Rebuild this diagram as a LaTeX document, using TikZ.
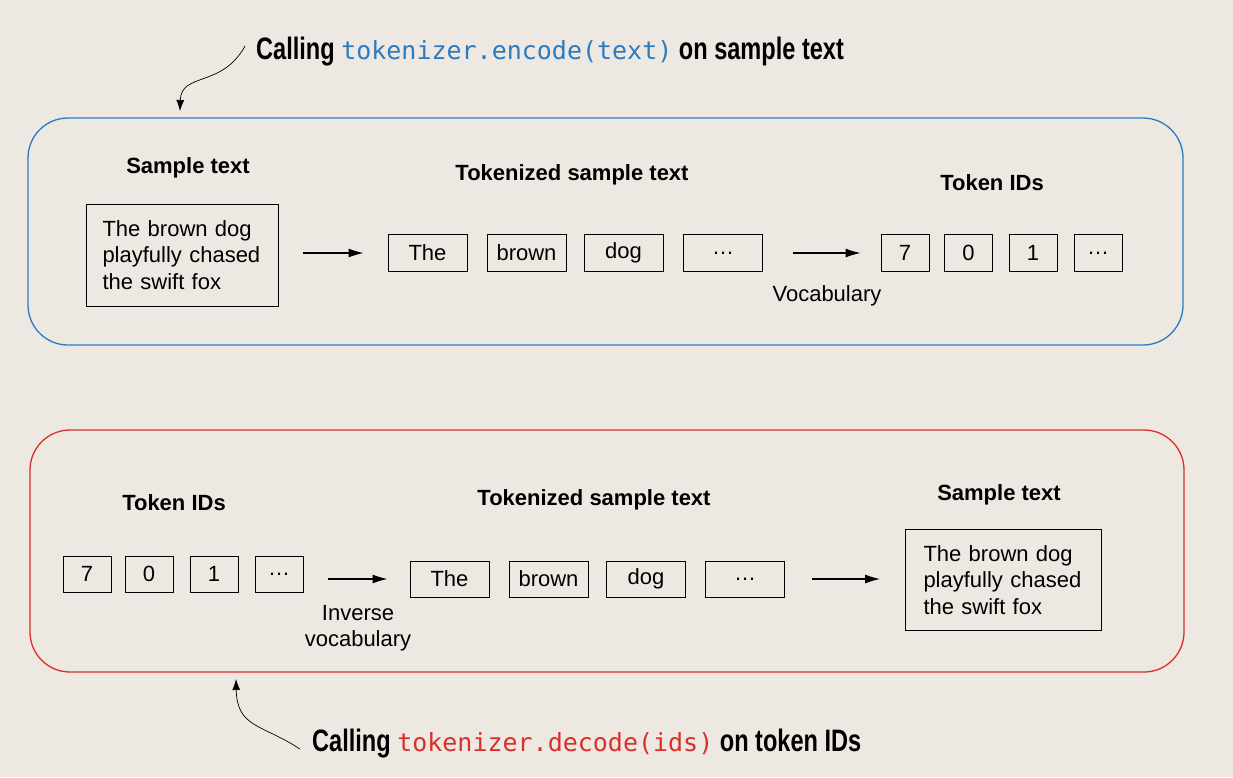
\documentclass[tikz,border=0pt]{standalone}
\usepackage{fontspec}
\setmainfont{Liberation Sans}
\newfontfamily\calloutfont{Liberation Sans Bold}[FakeStretch=0.76]
\newfontfamily\codefont{DejaVu Sans Mono}
\usetikzlibrary{arrows.meta}
\definecolor{paper}{RGB}{237,232,225}
\definecolor{encblue}{RGB}{43,123,192}
\definecolor{decred}{RGB}{217,48,42}
\tikzset{
  tokbox/.style={draw, line width=1pt, minimum width=79pt, minimum height=37pt, inner sep=0pt,
    font=\fontsize{22}{26}\selectfont},
  idbox/.style={tokbox, minimum width=48pt},
  textbox/.style={draw, line width=1pt, align=left, text width=160pt, inner xsep=16pt,
    minimum height=102pt, font=\fontsize{22}{26.5}\selectfont},
  heading/.style={font=\fontsize{22}{26}\selectfont\bfseries},
  note/.style={font=\fontsize{22}{26.5}\selectfont, align=center},
  flow/.style={-{Latex[length=15pt,width=9pt]}, line width=1.1pt},
  callout/.style={-{Latex[length=11pt,width=8pt]}, line width=0.7pt},
  calltext/.style={anchor=base west, inner sep=0pt, font=\fontsize{31}{36}\calloutfont}
}
\begin{document}
\begin{tikzpicture}[x=1pt,y=-1pt]
  % page and background
  \fill[paper] (0,0) rectangle (1233,777);
  \useasboundingbox (0,0) rectangle (1233,777);

  % encoding frame
  \draw[encblue, line width=1.3pt, rounded corners=40pt] (28,118) rectangle (1183,345);
  \node[heading] (enc head1) at (188,168) {Sample text};
  \node[heading] (enc head2) at (572,175) {Tokenized sample text};
  \node[heading] (enc head3) at (992,183) {Token IDs};
  \node[textbox] (enc sample) at (182.5,255) {The brown dog\\playfully chased\\the swift fox};
  \foreach \name/\x/\word in {1/427.5/The, 2/526.5/brown, 3/623.5/dog, 4/723/\dots}
    \node[tokbox] (enc tok\name) at (\x,253) {\word};
  \foreach \name/\x/\id in {1/905/7, 2/968.5/0, 3/1033/1, 4/1098/\dots}
    \node[idbox] (enc id\name) at (\x,253) {\id};
  \draw[flow, shorten <=24pt, shorten >=24pt] (enc tok1.west -| enc sample.east) -- (enc tok1.west);
  \draw[flow, shorten <=30pt, shorten >=20pt] (enc id1.west -| enc tok4.east) -- (enc id1.west);
  \node[note] (vocab) at (827,296) {Vocabulary};

  % decoding frame
  \draw[decred, line width=1.3pt, rounded corners=40pt] (30,430) rectangle (1184,672);
  \node[heading] (dec head1) at (174,503) {Token IDs};
  \node[heading] (dec head2) at (594,500) {Tokenized sample text};
  \node[heading] (dec head3) at (999,495) {Sample text};
  \foreach \name/\x/\id in {1/87/7, 2/149/0, 3/214/1, 4/279/\dots}
    \node[idbox, minimum height=36pt] (dec id\name) at (\x,574) {\id};
  \foreach \name/\x/\word in {1/449.5/The, 2/548.5/brown, 3/646/dog, 4/745/\dots}
    \node[tokbox, minimum height=36pt] (dec tok\name) at (\x,579) {\word};
  \node[textbox, inner xsep=18pt, minimum height=101pt] (dec sample) at (1003.5,580)
    {The brown dog\\playfully chased\\the swift fox};
  \draw[flow, shorten <=24pt, shorten >=22pt] (dec tok1.west -| dec id4.east) -- (dec tok1.west);
  \draw[flow, shorten <=27pt, shorten >=25pt] (dec tok4.east) -- (dec tok4.east -| dec sample.west);
  \node[note] (invvocab) at (358,628) {Inverse\\vocabulary};

  % callouts
  \node[calltext] (enc call) at (256,59)
    {Calling {\fontsize{25}{30}\codefont\color{encblue}tokenizer.encode(text)} on sample text};
  \coordinate (enc tip) at (180,111);
  \draw[callout] ([xshift=-11pt,yshift=5pt]enc call.west) .. controls (222,88) and (181,72) .. (enc tip);

  \node[calltext] (dec call) at (312,751)
    {Calling {\fontsize{25}{30}\codefont\color{decred}tokenizer.decode(ids)} on token IDs};
  \coordinate (dec tip) at (236,679);
  \draw[callout] ([xshift=-12pt,yshift=-6pt]dec call.west) .. controls (262,724) and (237,728) .. (dec tip);
\end{tikzpicture}
\end{document}
